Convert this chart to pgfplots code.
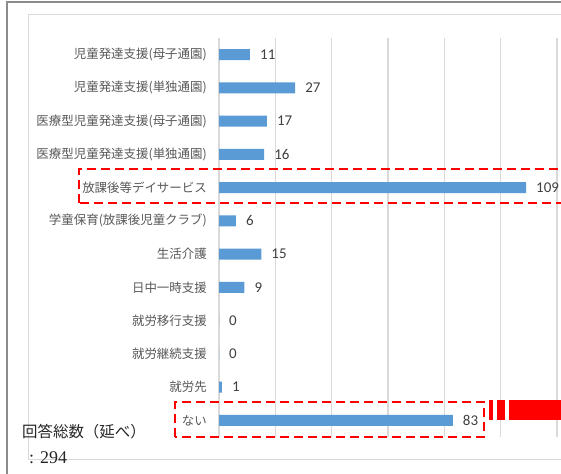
\documentclass[border=0pt]{standalone}
\usepackage{fontspec}
\usepackage{pgfplots}
\pgfplotsset{compat=1.18}
\newfontfamily\jp{Noto Sans CJK JP}
\newfontfamily\num{Carlito}
\newfontfamily\ser{Liberation Serif}
\definecolor{barblue}{HTML}{5B9BD5}
\definecolor{gridgray}{HTML}{D9D9D9}
\definecolor{labgray}{HTML}{595959}
\definecolor{numgray}{HTML}{404040}
\definecolor{framegray}{HTML}{8C8C8C}
\begin{document}
\begin{tikzpicture}
\path[use as bounding box] (0bp,0bp) rectangle (561bp,474bp);
\clip (0bp,0bp) rectangle (561bp,474bp);
\fill[white] (0bp,0bp) rectangle (561bp,474bp);
\begin{scope}[x=1bp,y=1bp]
% outer frame
\draw[framegray, line width=1.2bp] (7,-5) -- (7,472) -- (570,472);
% inner chart border
\draw[gridgray, line width=1bp] (570,14) -- (28,14) -- (28,459) -- (570,459);
\end{scope}
\begin{axis}[
  at={(219bp,37bp)}, anchor=south west,
  scale only axis, width=338bp, height=399bp,
  xbar, bar width=11bp, bar shift=0pt,
  xmin=0, xmax=120, ymin=0.5, ymax=12.5, y dir=reverse,
  xtick={0,20,...,120}, xticklabels={},
  ytick={1,...,12},
  yticklabels={児童発達支援(母子通園),児童発達支援(単独通園),医療型児童発達支援(母子通園),医療型児童発達支援(単独通園),放課後等デイサービス,学童保育(放課後児童クラブ),生活介護,日中一時支援,就労移行支援,就労継続支援,就労先,ない},
  xmajorgrids, major grid style={draw=gridgray, line width=1.5bp},
  axis line style={draw=none}, major tick length=0pt,
  /pgf/number format/assume math mode=true,
  yticklabel style={font=\jp\fontsize{12.5}{14}\selectfont, text=labgray, inner sep=0pt, anchor=east, xshift=-12bp},
  nodes near coords,
  nodes near coords style={font=\num\fontsize{15}{16}\selectfont, text=numgray, anchor=west, inner sep=0pt, xshift=10bp},
  clip=false,
]
\addplot[fill=barblue, draw=none] coordinates {(11,1) (27,2) (17,3) (16,4) (109,5) (6,6) (15,7) (9,8) (0,9) (0,10) (1,11) (83,12)};
\end{axis}
\begin{scope}[x=1bp,y=1bp]
% red dashed highlight boxes
\draw[red, line width=2.8bp, dash pattern=on 9bp off 5bp] (79,271) rectangle (568,305);
\draw[red, line width=2.8bp, dash pattern=on 9bp off 5bp] (175,37) rectangle (484,72);
\fill[red] (489,53.5) rectangle (492.7,74);
\fill[red] (497.3,53.5) rectangle (505,74);
\fill[red] (509,53.5) rectangle (565,74);
% note
\node[anchor=base west, inner sep=0pt, font=\jp\fontsize{15.5}{17}\selectfont, text=black!85] at (22,37) {回答総数（延べ）};
\node[anchor=base west, inner sep=0pt, font=\ser\fontsize{18}{20}\selectfont, text=black!85] at (29,11) {: 294};
\end{scope}
\end{tikzpicture}
\end{document}
